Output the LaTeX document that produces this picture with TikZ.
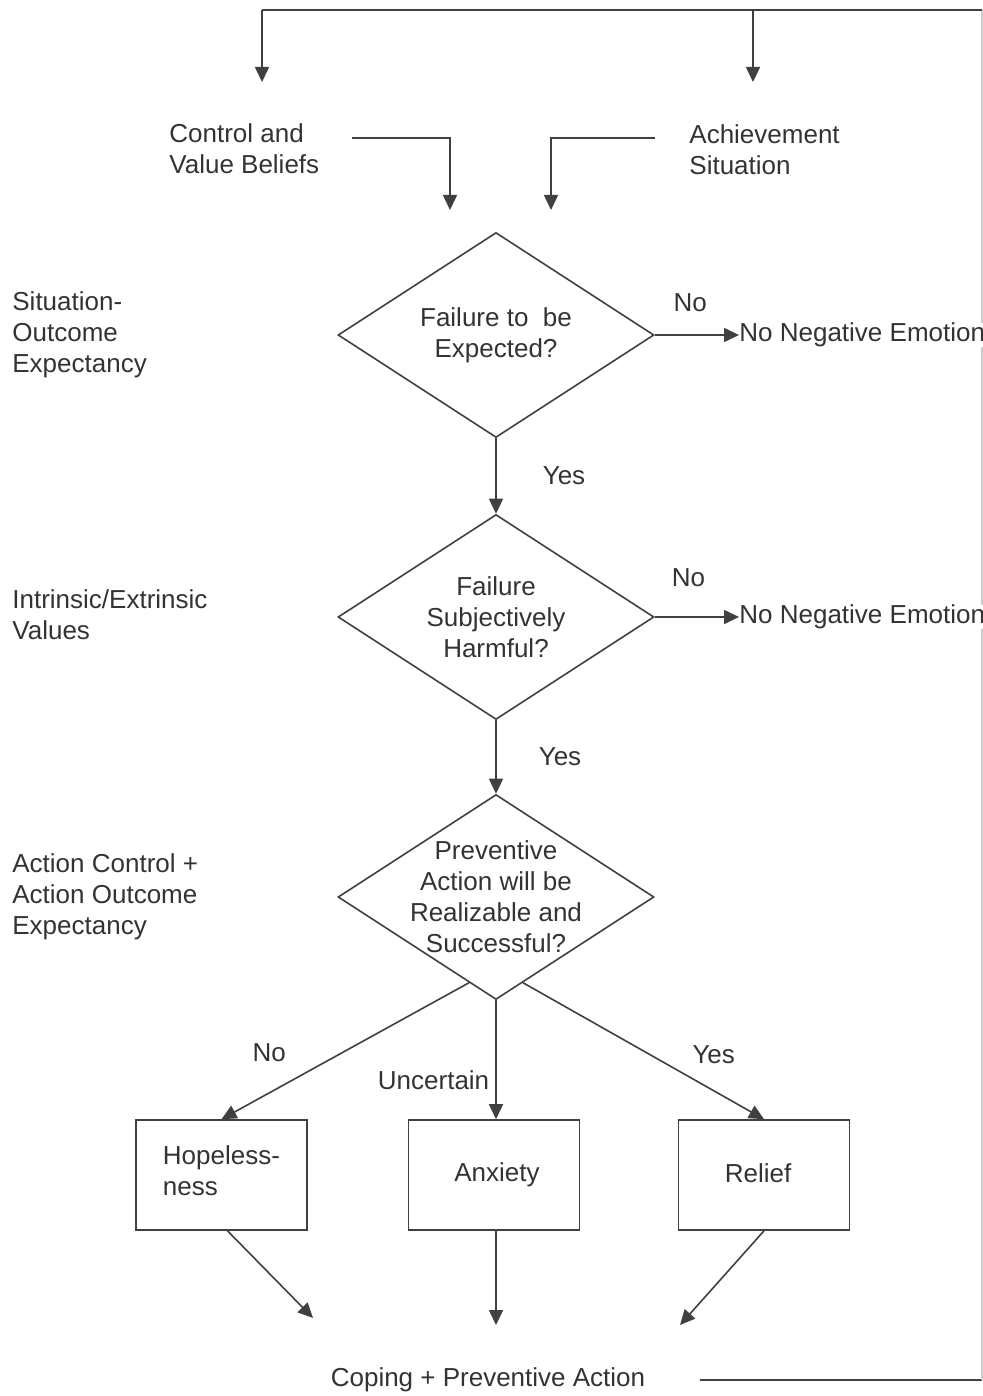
\documentclass[tikz,border=0pt]{standalone}
\usepackage{fontspec}
\setmainfont{Liberation Sans}
\usetikzlibrary{positioning}
\usetikzlibrary{calc}
\usetikzlibrary{arrows.meta}
\usetikzlibrary{shapes.geometric}

\begin{document}
\begin{tikzpicture}[x=0.5pt,y=-0.5pt,
    font=\fontsize{13}{15.5}\selectfont,
    every node/.style={text=black!80},
    txt/.style={inner sep=0pt,align=left},
    lbl/.style={inner sep=0pt},
    ln/.style={draw=black!75,line width=0.8pt},
    arr/.style={ln,-{Triangle[length=7.5pt,width=7pt]}},
    dec/.style={diamond,ln,minimum width=158pt,minimum height=102.5pt,inner sep=0pt},
    emo/.style={rectangle,ln,minimum width=85.5pt,minimum height=55pt,inner sep=0pt,align=left}]
    \useasboundingbox (0,0) rectangle (983,1396);

    \coordinate (back) at (700,1380);
    \coordinate (topL) at (262,10);
    \coordinate (topR) at (753,10);
    \coordinate (corner) at (982,10);
    \draw[ln] (back) -- (back -| corner);
    \draw[draw=black!20,line width=0.6pt] (back -| corner) -- (corner);
    \draw[ln] (corner) -- (topL);

    \node[txt,anchor=west] (beliefs) at (169,149) {Control and\\Value Beliefs};
    \node[txt,anchor=west] (situation) at (689,150) {Achievement\\Situation};
    \coordinate (inL) at (262,82);
    \coordinate (inR) at (753,82);
    \draw[arr] (topL) -- (inL);
    \draw[arr] (topR) -- (inR);

    \node[txt,anchor=west] (soe) at (12,335) {Situation-\\Outcome\\Expectancy};
    \node[txt,anchor=west] (iev) at (12,615) {Intrinsic/Extrinsic\\Values};
    \node[txt,anchor=west] (aco) at (12,897) {Action Control +\\Action Outcome\\Expectancy};

    \node[dec] (q1) at (496,335) {};
    \node[txt,align=center] (q1t) at (q1) {Failure to~ be\\Expected?};
    \node[dec] (q2) at (496,617) {};
    \node[txt,align=center] (q2t) at (q2) {Failure\\Subjectively\\Harmful?};
    \node[dec] (q3) at (496,897) {};
    \node[txt,align=center] (q3t) at (q3) {Preventive\\Action will be\\Realizable and\\Successful?};

    \coordinate (mergeL) at (450,210);
    \coordinate (mergeR) at (551,210);
    \draw[arr] (352,138) -| (mergeL);
    \draw[arr] (655,138) -| (mergeR);

    \node[txt,fill=white,anchor=west] (neg1) at (739,335) {No Negative Emotion};
    \node[txt,fill=white,anchor=west] (neg2) at (739,617) {No Negative Emotion};
    \draw[arr] (q1.east) -- node[lbl,pos=0.42,above=11pt] {No} (neg1.west);
    \draw[arr] (q2.east) -- node[lbl,pos=0.4,above=14.5pt] {No} (neg2.west);
    \draw[arr] (q1.south) -- node[lbl,right=23pt] {Yes} (q2.north);
    \draw[arr] (q2.south) -- node[lbl,right=21pt] {Yes} (q3.north);

    \node[emo] (hope) at (221.5,1175) {\raisebox{4pt}{Hopeless-}\\\raisebox{4pt}{ness}};
    \node[emo] (anx) at (494,1175) {\raisebox{2pt}{\hspace*{3pt}Anxiety}};
    \node[emo] (relief) at (764,1175) {\raisebox{2pt}{Relief\hspace*{6pt}}};

    \coordinate (outL) at ($(q3.south)!0.17!(q3.west)$);
    \coordinate (outR) at ($(q3.south)!0.17!(q3.east)$);
    \draw[arr] (outL) -- node[lbl,pos=0.7,above left=8pt and 4.5pt] {No} (hope.north);
    \draw[arr] (q3.south) -- node[lbl,pos=0.67,left=3pt] {Uncertain} (q3.south |- anx.north);
    \draw[arr] (outR) -- node[lbl,pos=0.7,above right=7pt and 0pt] {Yes} (relief.north);

    \node[lbl] (coping) at (488,1380) {Coping + Preventive Action};
    \coordinate (cL) at (313,1318);
    \coordinate (cR) at (680,1325);
    \draw[arr] ([xshift=3pt]hope.south) -- (cL);
    \draw[arr] (q3.south |- anx.south) -- (q3.south |- 0,1325);
    \draw[arr] (relief.south) -- (cR);
\end{tikzpicture}
\end{document}
